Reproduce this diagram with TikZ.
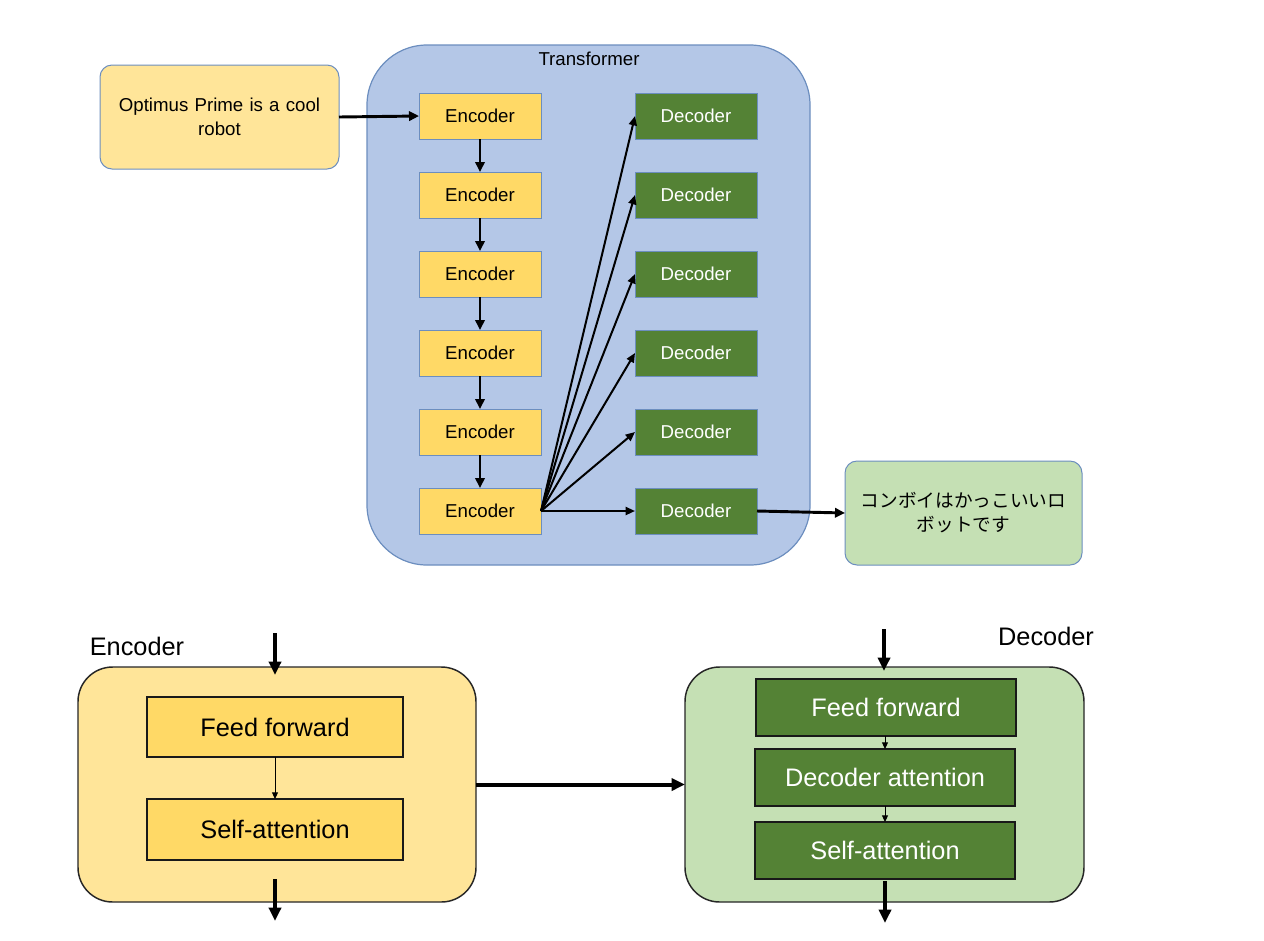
\documentclass[tikz,border=0pt]{standalone}
\usepackage{fontspec}
\setmainfont{Liberation Sans}
\newfontfamily\jpfont{Noto Sans CJK JP}
\usetikzlibrary{arrows.meta}
\definecolor{bordblue}{HTML}{6C8EBF}
\definecolor{transfill}{HTML}{B4C7E7}
\definecolor{encfill}{HTML}{FFD966}
\definecolor{infill}{HTML}{FFE599}
\definecolor{decfill}{HTML}{548235}
\definecolor{outfill}{HTML}{C5E0B4}
\begin{document}
\begin{tikzpicture}[x=0.75pt,y=-0.75pt,
  topbox/.style={draw=bordblue, line width=0.75pt, inner sep=0pt, outer sep=0pt, font=\fontsize{14}{18}\selectfont, align=center},
  encbox/.style={topbox, fill=encfill, minimum width=91.5pt, minimum height=34.5pt},
  decbox/.style={topbox, fill=decfill, text=white, minimum width=91.5pt, minimum height=34.5pt},
  bigbox/.style={draw=black!85, line width=1.1pt, inner sep=0pt, outer sep=0pt, rounded corners=26pt, minimum width=298.5pt, minimum height=176.25pt},
  layerbox/.style={draw=black!90, line width=1.1pt, inner sep=0pt, outer sep=0pt, font=\fontsize{19}{22}\selectfont},
  biglabel/.style={font=\fontsize{19}{22}\selectfont, inner sep=0pt},
  arr/.style={-{Triangle[length=7pt,width=6pt]}, line width=1.5pt},
  chainarr/.style={-{Triangle[length=7.5pt,width=7pt]}, line width=2.2pt},
  bigarr/.style={-{Triangle[length=10pt,width=9pt]}, line width=3pt},
  thinarr/.style={-{Triangle[length=5pt,width=4.5pt]}, line width=0.75pt}
]
\fill[white] (0,0) rectangle (1264,940);
\useasboundingbox (0,0) rectangle (1264,940);

% ---------- top part ----------
\node[draw=bordblue, line width=0.9pt, fill=transfill, rounded corners=45pt, minimum width=332.25pt, minimum height=390pt, inner sep=0pt] (trans) at (588.5,305) {};
\node[font=\fontsize{14}{18}\selectfont, inner sep=0pt] (ttitle) at (589,59) {Transformer};

\node[topbox, fill=infill, rounded corners=9pt, minimum width=179.25pt, minimum height=78pt, text width=170pt] (inp) at (219.5,117) {Optimus Prime is a cool\\robot};
\node[topbox, fill=outfill, rounded corners=9pt, minimum width=177.75pt, minimum height=78pt, text width=170pt] (outp) at (963.5,513) {\jpfont コンボイはかっこいいロ\\ボットです};

\foreach \i/\y in {1/116,2/195,3/274,4/353,5/432,6/511} {
  \node[encbox] (e\i) at (480,\y) {Encoder};
  \node[decbox] (d\i) at (696,\y) {Decoder};
}

\draw[chainarr] (inp.east) -- (e1.west);
\foreach \i/\j in {1/2,2/3,3/4,4/5,5/6} {
  \draw[chainarr] (e\i.south) -- (e\j.north);
}
\foreach \i in {1,...,6} {
  \draw[arr] (e6.east) -- (d\i.west);
}
\draw[chainarr] (d6.east) -- (outp.west);

% ---------- bottom encoder ----------
\node[bigbox, fill=infill] (benc) at (277,784.5) {};
\node[layerbox, fill=encfill, minimum width=192pt, minimum height=45pt] (bff) at (275,727) {Feed forward};
\node[layerbox, fill=encfill, minimum width=192pt, minimum height=45.75pt] (bsa) at (275,829.5) {Self-attention};
\node[biglabel] (lenc) at (137,646) {Encoder};
\draw[thinarr] (bff.south) -- (bsa.north);
\coordinate (encin) at (275,633);
\coordinate (encintip) at (275,675);
\coordinate (encoutstart) at (275,879);
\coordinate (encout) at (275,921);
\draw[bigarr] (encin) -- (encintip);
\draw[bigarr] (encoutstart) -- (encout);

% ---------- bottom decoder ----------
\node[bigbox, fill=outfill, minimum width=299.25pt] (bdec) at (884.5,784.5) {};
\node[layerbox, fill=decfill, text=white, minimum width=195pt, minimum height=42.75pt] (dff) at (886,707.5) {Feed forward};
\node[layerbox, fill=decfill, text=white, minimum width=195pt, minimum height=42.75pt] (dda) at (885,777.5) {Decoder attention};
\node[layerbox, fill=decfill, text=white, minimum width=195pt, minimum height=42.75pt] (dsa) at (885,850.5) {Self-attention};
\node[biglabel] (ldec) at (1046,636) {Decoder};
\draw[thinarr] (dff.south -| dda.north) -- (dda.north);
\draw[thinarr] (dda.south) -- (dsa.north);
\coordinate (decin) at (884,629);
\coordinate (decintip) at (884,671);
\coordinate (decoutstart) at (885,881);
\coordinate (decout) at (885,923);
\draw[bigarr] (decin) -- (decintip);
\draw[bigarr] (decoutstart) -- (decout);

\draw[bigarr] (benc.east) -- (bdec.west);
\end{tikzpicture}
\end{document}
